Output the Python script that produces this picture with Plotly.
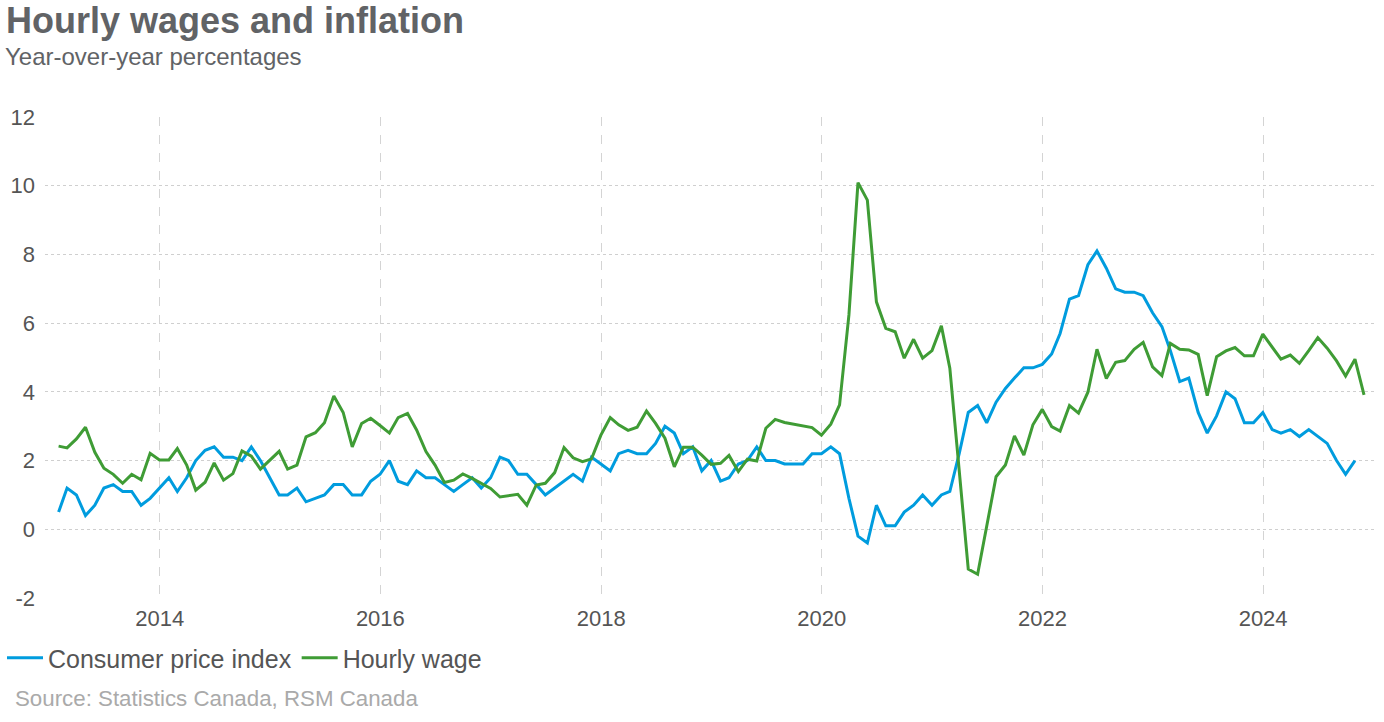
import plotly.graph_objects as go
import pandas as pd

# ---------------- data (year-over-year %, monthly, starting Jan 2013) ----------------
start_month = "2013-01"
cpi = [
    0.5, 1.2, 1.0, 0.4, 0.7, 1.2, 1.3, 1.1, 1.1, 0.7, 0.9, 1.2,   # 2013
    1.5, 1.1, 1.5, 2.0, 2.3, 2.4, 2.1, 2.1, 2.0, 2.4, 2.0, 1.5,   # 2014
    1.0, 1.0, 1.2, 0.8, 0.9, 1.0, 1.3, 1.3, 1.0, 1.0, 1.4, 1.6,   # 2015
    2.0, 1.4, 1.3, 1.7, 1.5, 1.5, 1.3, 1.1, 1.3, 1.5, 1.2, 1.5,   # 2016
    2.1, 2.0, 1.6, 1.6, 1.3, 1.0, 1.2, 1.4, 1.6, 1.4, 2.1, 1.9,   # 2017
    1.7, 2.2, 2.3, 2.2, 2.2, 2.5, 3.0, 2.8, 2.2, 2.4, 1.7, 2.0,   # 2018
    1.4, 1.5, 1.9, 2.0, 2.4, 2.0, 2.0, 1.9, 1.9, 1.9, 2.2, 2.2,   # 2019
    2.4, 2.2, 0.9, -0.2, -0.4, 0.7, 0.1, 0.1, 0.5, 0.7, 1.0, 0.7, # 2020
    1.0, 1.1, 2.2, 3.4, 3.6, 3.1, 3.7, 4.1, 4.4, 4.7, 4.7, 4.8,   # 2021
    5.1, 5.7, 6.7, 6.8, 7.7, 8.1, 7.6, 7.0, 6.9, 6.9, 6.8, 6.3,   # 2022
    5.9, 5.2, 4.3, 4.4, 3.4, 2.8, 3.3, 4.0, 3.8, 3.1, 3.1, 3.4,   # 2023
    2.9, 2.8, 2.9, 2.7, 2.9, 2.7, 2.5, 2.0, 1.6, 2.0,             # 2024
]
hourly_wage = [
    2.42, 2.37, 2.63, 2.97, 2.24, 1.78, 1.60, 1.34, 1.60, 1.44, 2.21, 2.02,  # 2013
    2.02, 2.35, 1.87, 1.14, 1.37, 1.93, 1.43, 1.62, 2.28, 2.13, 1.75, 2.02,  # 2014
    2.27, 1.75, 1.87, 2.69, 2.81, 3.10, 3.88, 3.40, 2.40, 3.08, 3.23, 3.02,  # 2015
    2.80, 3.25, 3.37, 2.89, 2.26, 1.87, 1.36, 1.43, 1.61, 1.48, 1.34, 1.19,  # 2016
    0.94, 0.97, 1.02, 0.70, 1.29, 1.34, 1.65, 2.38, 2.08, 1.97, 2.05, 2.74,  # 2017
    3.25, 3.04, 2.88, 2.97, 3.44, 3.08, 2.65, 1.82, 2.39, 2.39, 2.16, 1.89,  # 2018
    1.92, 2.15, 1.68, 2.04, 1.99, 2.94, 3.20, 3.11, 3.06, 2.99, 2.96, 2.74,  # 2019
    3.06, 3.62, 6.24, 10.09, 9.58, 6.62, 5.85, 5.75, 4.98, 5.53, 4.98, 5.20, # 2020
    5.92, 4.69, 1.83, -1.16, -1.31, 0.12, 1.53, 1.87, 2.72, 2.16, 3.04, 3.49, # 2021
    2.99, 2.86, 3.60, 3.38, 3.99, 5.24, 4.39, 4.86, 4.91, 5.24, 5.44, 4.73,  # 2022
    4.47, 5.41, 5.24, 5.22, 5.09, 3.89, 5.02, 5.19, 5.29, 5.05, 5.05, 5.68,  # 2023
    5.32, 4.95, 5.07, 4.83, 5.20, 5.58, 5.27, 4.90, 4.46, 4.95, 3.91,        # 2024
]
series_names = ["Consumer price index", "Hourly wage"]
y_ticks = [-2, 0, 2, 4, 6, 8, 10, 12]
x_tick_years = [2014, 2016, 2018, 2020, 2022, 2024]

title_text = "Hourly wages and inflation"
subtitle_text = "Year-over-year percentages"
source_text = "Source: Statistics Canada, RSM Canada"


def month_ends(n):
    first = pd.Period(start_month, freq="M")
    return [(first + i).end_time.normalize() for i in range(n)]


# ---------------- layout geometry ----------------
W, H = 1384, 722
L, R, T, B = 45, 10, 117, 124
plot_w = W - L - R
plot_h = H - T - B


def px_x(px):
    return (px - L) / plot_w


def px_y(py):
    return (H - B - py) / plot_h


FONT = "Liberation Sans, Arial, Helvetica, sans-serif"
BLUE = "#009CDE"
GREEN = "#3F9C35"

fig = go.Figure()
fig.add_trace(go.Scatter(x=month_ends(len(cpi)), y=cpi, name=series_names[0],
                         mode="lines", line=dict(color=BLUE, width=3)))
fig.add_trace(go.Scatter(x=month_ends(len(hourly_wage)), y=hourly_wage, name=series_names[1],
                         mode="lines", line=dict(color=GREEN, width=3)))

fig.update_layout(
    width=W, height=H,
    margin=dict(l=L, r=R, t=T, b=B, autoexpand=False),
    paper_bgcolor="white", plot_bgcolor="white",
    font=dict(family=FONT, color="#555555"),
    showlegend=True,
    legend=dict(orientation="h", xref="container", yref="container",
                x=2 / W, xanchor="left", y=(H - 658) / H, yanchor="middle",
                font=dict(size=25, color="#555555", family=FONT),
                bgcolor="rgba(0,0,0,0)", itemwidth=36, tracegroupgap=0),
    xaxis=dict(
        type="date",
        range=["2012-12-17", "2025-01-02"],
        tickvals=[f"{y}-01-01" for y in x_tick_years],
        ticktext=[str(y) for y in x_tick_years],
        showgrid=True, gridcolor="#d4d4d4", griddash="dash", gridwidth=1,
        zeroline=False, showline=False, ticks="", automargin=False,
        tickfont=dict(size=22, color="#555555", family=FONT),
        ticklabelstandoff=5,
    ),
    yaxis=dict(
        range=[-2, 12],
        tickvals=y_ticks,
        ticktext=[str(v) for v in y_ticks],
        showgrid=True, gridcolor="#cfcfcf", griddash="dot", gridwidth=1,
        zeroline=False, showline=False, ticks="", automargin=False,
        tickfont=dict(size=22, color="#555555", family=FONT),
        ticklabelstandoff=9,
    ),
    annotations=[
        dict(text=f"<b>{title_text}</b>", xref="paper", yref="paper",
             x=px_x(4), y=px_y(20.5), xanchor="left", yanchor="middle",
             showarrow=False, font=dict(size=36, color="#616366", family=FONT)),
        dict(text=subtitle_text, xref="paper", yref="paper",
             x=px_x(2.5), y=px_y(56.5), xanchor="left", yanchor="middle",
             showarrow=False, font=dict(size=24, color="#616366", family=FONT)),
        dict(text=source_text, xref="paper", yref="paper",
             x=px_x(13), y=px_y(698), xanchor="left", yanchor="middle",
             showarrow=False, font=dict(size=22.3, color="#aaaaaa", family=FONT)),
    ],
)

fig.write_html("out.html",
               config={"displayModeBar": False},
               post_script="document.body.style.margin='0px';document.body.style.overflow='hidden';")
